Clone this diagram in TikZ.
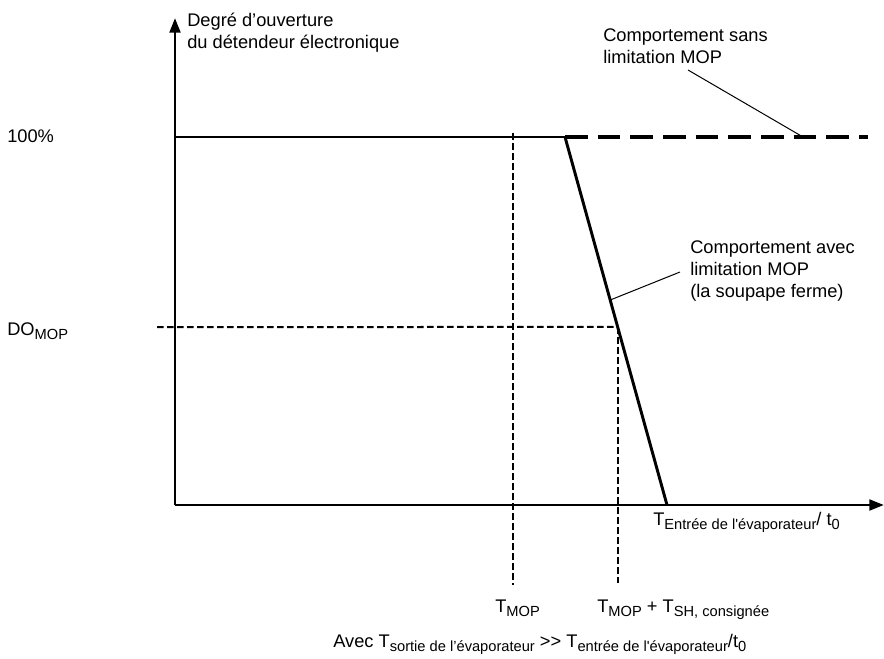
\documentclass[tikz,border=0pt]{standalone}
\usepackage{fontspec}
\setmainfont{Liberation Sans}
\usetikzlibrary{arrows.meta,calc}
\newcommand{\lowsub}[1]{\raisebox{-3pt}{\fontsize{11}{12}\selectfont #1}}
\begin{document}
\begin{tikzpicture}[x=0.75pt,y=-0.75pt]
            \useasboundingbox (0,0) rectangle (884,659);
            \begin{scope}
                \coordinate (o) at (175,505);
                \coordinate (ytop) at (175,18);
                \coordinate (xend) at (884,505);
                \coordinate (full) at (175,137);
                \coordinate (knee) at (565,137);
                \coordinate (foot) at (667,505);
                \coordinate (dashend) at (868,137);
                \coordinate (doleft) at (157,327);
                \coordinate (domop) at ($(knee)!0.5163!(foot)$);
                \coordinate (tmoptop) at (513,133);
                \coordinate (tmopbot) at (513,585);
                \coordinate (tshbot) at (domop |- 0,583);
                \coordinate (sansa) at (688,70);
                \coordinate (sansb) at (803,137);
                \coordinate (aveca) at (680,272);
                \coordinate (avecb) at ($(knee)!0.443!(foot)$);
            \end{scope}
            \begin{scope}[every node/.style={anchor=base west,inner sep=0pt,align=left,font=\fontsize{13.7}{16.5}\selectfont}]
                \node (ylab) at (187,49) {Degré d’ouverture\\du détendeur électronique};
                \node (pct) at (7,143) {100\%};
                \node (dolab) at (7,335) {DO\lowsub{MOP}};
                \node (sans) at (603,64) {Comportement sans\\limitation MOP};
                \node (avec) at (690,297) {Comportement avec\\limitation MOP\\(la soupape ferme)};
                \node (xlab) at (653,525) {T\lowsub{Entrée de l\textquotesingle évaporateur}/ t\lowsub{0}};
                \node (tmop) at (495,612) {T\lowsub{MOP}};
                \node (tsh) at (597,612) {T\lowsub{MOP} + T\lowsub{SH, consignée}};
                \node (note) at (333,647) {Avec T\lowsub{sortie de l’évaporateur} \textgreater\kern0pt\textgreater{} T\lowsub{entrée de l\textquotesingle évaporateur}/t\lowsub{0}};
            \end{scope}
            \begin{scope}[every edge/.style={draw=black,line width=2.2pt,-{Triangle[length=11pt,width=8pt]}}]
                \path (o) edge (ytop);
                \path (o) edge (xend);
            \end{scope}
            \begin{scope}[every edge/.style={draw=black,line width=1.5pt,dash pattern=on 5pt off 2.5pt}]
                \path (doleft) edge (domop);
                \path (domop) edge (tshbot);
                \path (tmoptop) edge (tmopbot);
            \end{scope}
            \draw[line width=1.7pt] (full) -- (knee);
            \draw[line width=2.2pt] (knee) -- (foot);
            \draw[line width=3pt,dash pattern=on 17pt off 7.5pt] (knee) -- (dashend);
            \begin{scope}[every edge/.style={draw=black,line width=0.75pt}]
                \path (sansa) edge (sansb);
                \path (aveca) edge (avecb);
            \end{scope}
        \end{tikzpicture}
\end{document}
